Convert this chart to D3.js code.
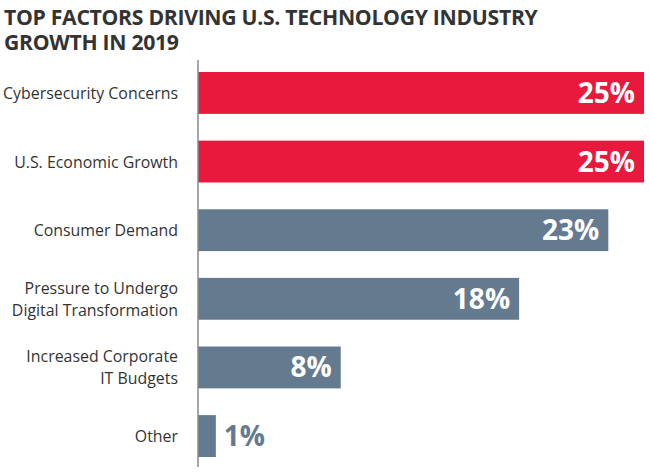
<!DOCTYPE html>
<html><head><meta charset="utf-8">
<script src="https://cdn.jsdelivr.net/npm/d3@7"></script>
<style>body{margin:0;background:#fff;}svg{display:block;}</style>
</head><body>
<svg id="c" width="650" height="472"></svg>
<script>
const categories = [
  ["Cybersecurity Concerns"],
  ["U.S. Economic Growth"],
  ["Consumer Demand"],
  ["Pressure to Undergo", "Digital Transformation"],
  ["Increased Corporate", "IT Budgets"],
  ["Other"]
];
const values = [25, 25, 23, 18, 8, 1];
const highlight = [true, true, false, false, false, false];
const titleLines = ["TOP FACTORS DRIVING U.S. TECHNOLOGY INDUSTRY", "GROWTH IN 2019"];

const svg = d3.select("#c");
const x0 = 198, y1 = 467;
const x = d3.scaleLinear().domain([0, 25]).range([x0, 644]);
const y = d3.scaleBand().domain(d3.range(values.length)).range([72, 457]).paddingInner(0.39).paddingOuter(0);

svg.append("text")
  .attr("font-family", "Open Sans, sans-serif").attr("font-weight", 700)
  .attr("font-size", 21.2).attr("fill", "#333").attr("letter-spacing", -0.3)
  .selectAll("tspan").data(titleLines).join("tspan")
  .attr("x", 4).attr("y", (d, i) => 24.5 + i * 25)
  .text(d => d);

svg.selectAll("rect.bar").data(values).join("rect")
  .attr("x", x0).attr("y", (d, i) => y(i))
  .attr("width", d => x(d) - x0).attr("height", y.bandwidth())
  .attr("fill", (d, i) => highlight[i] ? "#e8193c" : "#647a8f");

svg.append("line").attr("x1", x0).attr("x2", x0).attr("y1", 60).attr("y2", y1)
  .attr("stroke", "#8a8a8a").attr("stroke-width", 1.5);

svg.selectAll("text.val").data(values).join("text")
  .attr("x", d => d < 3 ? x(d) + 8 : x(d) - 9)
  .attr("y", (d, i) => y(i) + y.bandwidth() / 2 + 10)
  .attr("text-anchor", d => d < 3 ? "start" : "end")
  .attr("font-family", "Open Sans, sans-serif").attr("font-weight", 700)
  .attr("font-size", 28).attr("fill", d => d < 3 ? "#647a8f" : "#fff")
  .text(d => d + "%");

const lbl = svg.selectAll("text.cat").data(categories).join("text")
  .attr("text-anchor", "end")
  .attr("font-family", "Open Sans, sans-serif").attr("font-size", 15.9).attr("fill", "#333");
lbl.each(function(lines, i) {
  const cy = y(i) + y.bandwidth() / 2;
  const n = lines.length;
  d3.select(this).selectAll("tspan").data(lines).join("tspan")
    .attr("x", 178)
    .attr("y", (d, j) => cy + 6 + (j - (n - 1) / 2) * 22)
    .text(d => d);
});
</script>
</body></html>
